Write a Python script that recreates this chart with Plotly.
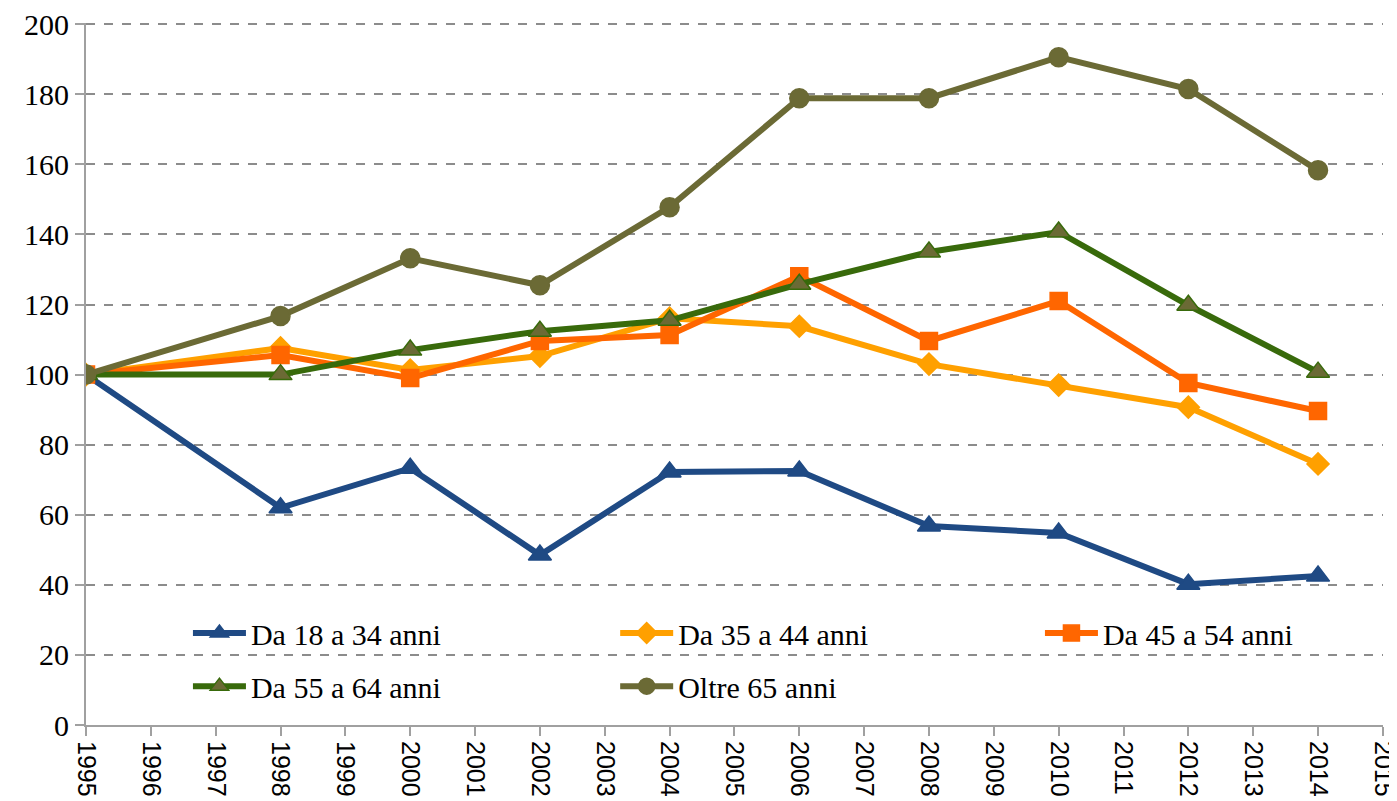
import plotly.graph_objects as go

years = [1995, 1998, 2000, 2002, 2004, 2006, 2008, 2010, 2012, 2014]
da_18_34 = [100, 62.0, 73.3, 48.5, 72.2, 72.5, 56.8, 54.8, 40.2, 42.5]
da_35_44 = [100, 107.6, 101.3, 105.3, 116.1, 113.8, 103.0, 97.0, 90.7, 74.5]
da_45_54 = [100, 105.6, 99.0, 109.6, 111.3, 128.1, 109.6, 121.0, 97.6, 89.6]
da_55_64 = [100, 100.0, 107.0, 112.4, 115.5, 125.8, 135.0, 140.7, 119.8, 100.7]
oltre_65 = [100, 116.7, 133.2, 125.5, 147.8, 178.9, 178.9, 190.6, 181.5, 158.3]

# name, values, line colour, symbol, size, fill, edge, legend id, legend x, legend y
series = [
    ("Da 18 a 34 anni", da_18_34, "#1F4A84", "triangle-up", 20, "#1F4A84", "#1F4A84", "legend", 0.0786, 0.168),
    ("Da 35 a 44 anni", da_35_44, "#FFA000", "diamond", 17, "#FFA000", "#FFA000", "legend2", 0.408, 0.168),
    ("Da 45 a 54 anni", da_45_54, "#FF6600", "square", 17, "#FF6600", "#FF6600", "legend3", 0.7355, 0.168),
    ("Da 55 a 64 anni", da_55_64, "#386A0B", "triangle-up", 20, "#6B6A35", "#386A0B", "legend4", 0.0786, 0.0924),
    ("Oltre 65 anni", oltre_65, "#6B6A35", "circle", 19, "#6B6A35", "#6B6A35", "legend5", 0.408, 0.0924),
]

fig = go.Figure()
legend_font = dict(family="Liberation Serif", size=30, color="black")
legends = {}
for name, vals, col, sym, sz, fill, edge, lg, lx, ly in series:
    fig.add_trace(go.Scatter(
        x=years, y=vals, name=name, mode="lines+markers",
        line=dict(color=col, width=6),
        marker=dict(symbol=sym, size=sz, color=fill, line=dict(color=edge, width=1.5)),
        legend=lg,
    ))
    legends[lg] = dict(
        x=lx, y=ly, xanchor="left", yanchor="top", orientation="h",
        font=legend_font, bgcolor="rgba(0,0,0,0)", itemwidth=53,
    )

fig.update_layout(
    template="none",
    width=1389, height=793,
    margin=dict(l=78, r=14, t=15, b=76),
    paper_bgcolor="white", plot_bgcolor="white",
    showlegend=True,
    **legends,
    xaxis=dict(
        range=[1995, 2015.002], tickmode="linear", tick0=1995, dtick=1,
        tickangle=90, showgrid=False, zeroline=False,
        showline=True, linecolor="#A0A0A0", linewidth=2,
        ticks="outside", ticklen=9, tickcolor="#A0A0A0", tickwidth=2,
        tickfont=dict(family="Liberation Sans", size=25, color="black"),
        ticklabeloverflow="allow",
        automargin=False,
    ),
    yaxis=dict(
        range=[0, 200.35], tickmode="linear", tick0=0, dtick=20,
        showgrid=True, gridcolor="#8C8C8C", gridwidth=1.5, griddash="dash",
        zeroline=False, showline=True, linecolor="#A0A0A0", linewidth=2,
        ticks="outside", ticklen=9, tickcolor="#A0A0A0", tickwidth=2,
        tickfont=dict(family="Liberation Serif", size=30, color="black"),
        ticklabeloverflow="allow",
        automargin=False,
    ),
)

fig.write_html("out.html")
